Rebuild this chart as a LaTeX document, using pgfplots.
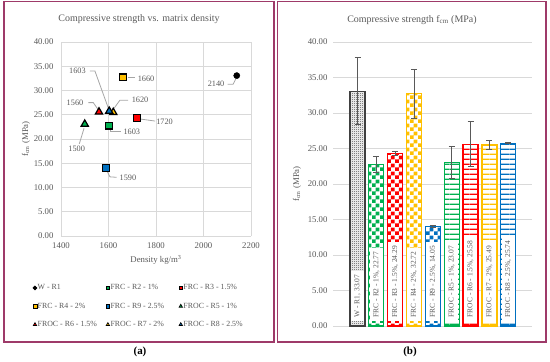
\documentclass[border=0pt]{standalone}
\usepackage{pgfplots}
\pgfplotsset{compat=1.18}
\usepackage{fontspec}
\setmainfont{Liberation Serif}
\usetikzlibrary{patterns}
\definecolor{gridgray}{HTML}{D9D9D9}
\definecolor{textgray}{HTML}{595959}
\definecolor{leadgray}{HTML}{A6A6A6}
\definecolor{framec}{HTML}{9E3A69}
\definecolor{cgreen}{HTML}{00B050}
\definecolor{cred}{HTML}{FF0000}
\definecolor{cyellow}{HTML}{FFC000}
\definecolor{cblue}{HTML}{0070C0}
\definecolor{cblack}{HTML}{404040}

\pgfdeclarepatternformonly{bigcheck}{\pgfpointorigin}{\pgfqpoint{7.6bp}{7.6bp}}{\pgfqpoint{7.6bp}{7.6bp}}{%
  \pgfpathrectangle{\pgfpointorigin}{\pgfqpoint{3.85bp}{3.85bp}}%
  \pgfpathrectangle{\pgfqpoint{3.8bp}{3.8bp}}{\pgfqpoint{3.85bp}{3.85bp}}%
  \pgfusepath{fill}}
\pgfdeclarepatternformonly{hlinesthick}{\pgfpointorigin}{\pgfqpoint{10bp}{4.5bp}}{\pgfqpoint{10bp}{4.5bp}}{%
  \pgfpathrectangle{\pgfpointorigin}{\pgfqpoint{10.05bp}{1.4bp}}%
  \pgfusepath{fill}}
\pgfdeclarepatternformonly{finedots}{\pgfpointorigin}{\pgfqpoint{2bp}{2bp}}{\pgfqpoint{2bp}{2bp}}{%
  \pgfpathrectangle{\pgfpointorigin}{\pgfqpoint{1bp}{1bp}}%
  \pgfpathrectangle{\pgfqpoint{1bp}{1bp}}{\pgfqpoint{1bp}{1bp}}%
  \pgfusepath{fill}}

\tikzset{
  dlabel/.style={font=\fontsize{8.3}{10}\selectfont, text=textgray, inner sep=0pt},
  lead/.style={leadgray, line width=0.8bp},
  barlabel/.style={rotate=90, anchor=west, fill=white, font=\fontsize{7.5}{9}\selectfont, text=textgray, minimum height=13.4bp, inner xsep=3.5bp, inner ysep=0pt},
}
\pgfplotsset{
  fbar/.style n args={2}{ybar, bar width=15bp, bar shift=0pt, draw=#1, line width=1.2bp, fill=white,
    postaction={pattern=#2, pattern color=#1},
    error bars/y dir=both, error bars/y explicit,
    error bars/error bar style={textgray, line width=1bp},
    error bars/error mark options={rotate=90, mark size=3bp, textgray, line width=1bp}},
}

\begin{document}
\begin{tikzpicture}[x=1bp,y=1bp]
\path[use as bounding box] (0,0) rectangle (550,361);
% frames
\draw[framec, line width=1.3bp] (4,19) rectangle (274,359.5);
\draw[framec, line width=1.3bp] (277.5,19) rectangle (546,359.5);

% ---------------- (a) scatter ----------------
\begin{axis}[
  at={(61bp,125bp)}, anchor=south west, scale only axis,
  width=190bp, height=194bp,
  xmin=1400, xmax=2200, ymin=0, ymax=40,
  xtick={1400,1600,1800,2000,2200}, ytick={0,5,...,40},
  grid=major, grid style={gridgray, line width=0.9bp},
  axis line style={draw=none}, major tick length=0pt,
  /pgf/number format/assume math mode=true,
  yticklabel style={font=\fontsize{8.8}{10}\selectfont, text=textgray, xshift=-4bp,
     /pgf/number format/fixed, /pgf/number format/fixed zerofill, /pgf/number format/precision=2},
  xticklabel style={font=\fontsize{8.8}{10}\selectfont, text=textgray, yshift=-3bp,
     /pgf/number format/1000 sep={}},
  clip=false,
  legend columns=3,
  legend style={at={(axis description cs:-0.148,-0.245)}, anchor=north west, draw=none, fill=none,
    inner sep=0pt, font=\fontsize{7.9}{9.5}\selectfont, text=textgray, row sep=10bp,
    nodes={inner sep=0.8bp}},
  legend cell align=left,
  legend image code/.code={\draw[#1, mark size=1.9bp, line width=0.7bp] plot coordinates {(0bp,0bp)};},
]
\addplot[only marks, mark=*, mark size=3.1bp, draw=black, fill=black] coordinates {(2140,33.07)};
\addlegendentry{\makebox[67.5bp][l]{W - R1}}
\addplot[only marks, mark=square*, mark size=3.4bp, draw=black, fill=cgreen, line width=1.3bp] coordinates {(1603,22.77)};
\addlegendentry{\makebox[67.5bp][l]{FRC - R2 - 1\%}}
\addplot[only marks, mark=square*, mark size=3.4bp, draw=black, fill=cred, line width=1.3bp] coordinates {(1720,24.29)};
\addlegendentry{\makebox[67.5bp][l]{FRC - R3 - 1.5\%}}
\addplot[only marks, mark=square*, mark size=3.4bp, draw=black, fill=cyellow, line width=1.3bp] coordinates {(1660,32.72)};
\addlegendentry{\makebox[67.5bp][l]{FRC - R4 - 2\%}}
\addplot[only marks, mark=square*, mark size=3.4bp, draw=black, fill=cblue, line width=1.3bp] coordinates {(1590,14.05)};
\addlegendentry{\makebox[67.5bp][l]{FRC - R9 - 2.5\%}}
\addplot[only marks, mark=triangle*, mark size=4.2bp, draw=black, fill=cgreen, line width=1.2bp] coordinates {(1500,23.07)};
\addlegendentry{\makebox[67.5bp][l]{FROC - R5 - 1\%}}
\addplot[only marks, mark=triangle*, mark size=4.2bp, draw=black, fill=cred, line width=1.2bp] coordinates {(1560,25.58)};
\addlegendentry{\makebox[67.5bp][l]{FROC - R6 - 1.5\%}}
\addplot[only marks, mark=triangle*, mark size=4.2bp, draw=black, fill=cyellow, line width=1.2bp] coordinates {(1620,25.49)};
\addlegendentry{\makebox[67.5bp][l]{FROC - R7 - 2\%}}
\addplot[only marks, mark=triangle*, mark size=4.2bp, draw=black, fill=cblue, line width=1.2bp] coordinates {(1603,25.74)};
\addlegendentry{\makebox[67.5bp][l]{FROC - R8 - 2.5\%}}
% data labels with leader lines
\draw[lead] (axis cs:2102,31.3) -- (axis cs:2125,31.3) -- (axis cs:2136,32.4);
\node[dlabel] at (axis cs:2053,31.3) {2140};
\draw[lead] (axis cs:1680,32.6) -- (axis cs:1712,32.6);
\node[dlabel] at (axis cs:1758,32.4) {1660};
\draw[lead] (axis cs:1737,24.1) -- (axis cs:1796,23.7);
\node[dlabel] at (axis cs:1836,23.6) {1720};
\draw[lead] (axis cs:1606,22.0) -- (axis cs:1606,21.5) -- (axis cs:1653,21.5);
\node[dlabel] at (axis cs:1698,21.5) {1603};
\draw[lead] (axis cs:1595,13.3) -- (axis cs:1606,12.2) -- (axis cs:1634,12.1);
\node[dlabel] at (axis cs:1682,12.0) {1590};
\draw[lead] (axis cs:1477,19.0) -- (axis cs:1497,22.2);
\node[dlabel] at (axis cs:1466,17.9) {1500};
\draw[lead] (axis cs:1515,27.5) -- (axis cs:1536,27.5) -- (axis cs:1554.5,26.2);
\node[dlabel] at (axis cs:1459,27.5) {1560};
\draw[lead] (axis cs:1683,28.0) -- (axis cs:1648,28.0) -- (axis cs:1623,26.3);
\node[dlabel] at (axis cs:1733,28.0) {1620};
\draw[lead] (axis cs:1522,34.0) -- (axis cs:1543,34.0) -- (axis cs:1599,26.4);
\node[dlabel] at (axis cs:1469,34.0) {1603};
\end{axis}

% ---------------- (b) bars ----------------
\begin{axis}[
  at={(333bp,35bp)}, anchor=south west, scale only axis,
  width=199bp, height=284bp,
  xmin=-1.3, xmax=9.26, ymin=0, ymax=40,
  xtick=\empty, ytick={0,5,...,40},
  ymajorgrids, grid style={gridgray, line width=0.9bp},
  axis line style={draw=none}, major tick length=0pt,
  /pgf/number format/assume math mode=true,
  yticklabel style={font=\fontsize{8.8}{10}\selectfont, text=textgray, xshift=-2bp,
     /pgf/number format/fixed, /pgf/number format/fixed zerofill, /pgf/number format/precision=2},
  clip=false,
]
\addplot[fbar={cblack}{finedots}] coordinates {(0,33.07) +- (0,4.70)};
\addplot[fbar={cgreen}{bigcheck}] coordinates {(1,22.77) +- (0,1.15)};
\addplot[fbar={cred}{bigcheck}] coordinates {(2,24.29) +- (0,0.30)};
\addplot[fbar={cyellow}{bigcheck}] coordinates {(3,32.72) +- (0,3.45)};
\addplot[fbar={cblue}{bigcheck}] coordinates {(4,14.05) +- (0,0.15)};
\addplot[fbar={cgreen}{hlinesthick}] coordinates {(5,23.07) +- (0,2.28)};
\addplot[fbar={cred}{hlinesthick}] coordinates {(6,25.58) +- (0,3.17)};
\addplot[fbar={cyellow}{hlinesthick}] coordinates {(7,25.49) +- (0,0.62)};
\addplot[fbar={cblue}{hlinesthick}] coordinates {(8,25.74) +- (0,0.10)};
\node[barlabel] at (axis cs:0,0.7) {W - R1, 33.07};
\node[barlabel] at (axis cs:1,0.7) {FRC - R2 - 1\%, 22.77};
\node[barlabel] at (axis cs:2,0.7) {FRC - R3 - 1.5\%, 24.29};
\node[barlabel] at (axis cs:3,0.7) {FRC - R4 - 2\%, 32.72};
\node[barlabel] at (axis cs:4,0.7) {FRC - R9 - 2.5\%, 14.05};
\node[barlabel] at (axis cs:5,0.7) {FROC - R5 - 1\%, 23.07};
\node[barlabel] at (axis cs:6,0.7) {FROC - R6 - 1.5\%, 25.58};
\node[barlabel] at (axis cs:7,0.7) {FROC - R7 - 2\%, 25.49};
\node[barlabel] at (axis cs:8,0.7) {FROC - R8 - 2.5\%, 25.74};
\end{axis}

% titles and axis labels
\node[font=\fontsize{10}{12}\selectfont, text=textgray] at (139,342) {Compressive strength vs. matrix density};
\node[font=\fontsize{10}{12}\selectfont, text=textgray] at (412,341) {Compressive strength f\textsubscript{cm} (MPa)};
\node[font=\fontsize{8.8}{10}\selectfont, text=textgray, rotate=90] at (26,222) {f\textsubscript{cm} (MPa)};
\node[font=\fontsize{8.8}{10}\selectfont, text=textgray, rotate=90] at (297,177) {f\textsubscript{cm} (MPa)};
\node[font=\fontsize{8.8}{10}\selectfont, text=textgray] at (156,101) {Density kg/m\textsuperscript{3}};
\node[font=\bfseries\fontsize{11}{13}\selectfont] at (140,9) {(a)};
\node[font=\bfseries\fontsize{11}{13}\selectfont] at (410,9) {(b)};
\end{tikzpicture}
\end{document}
